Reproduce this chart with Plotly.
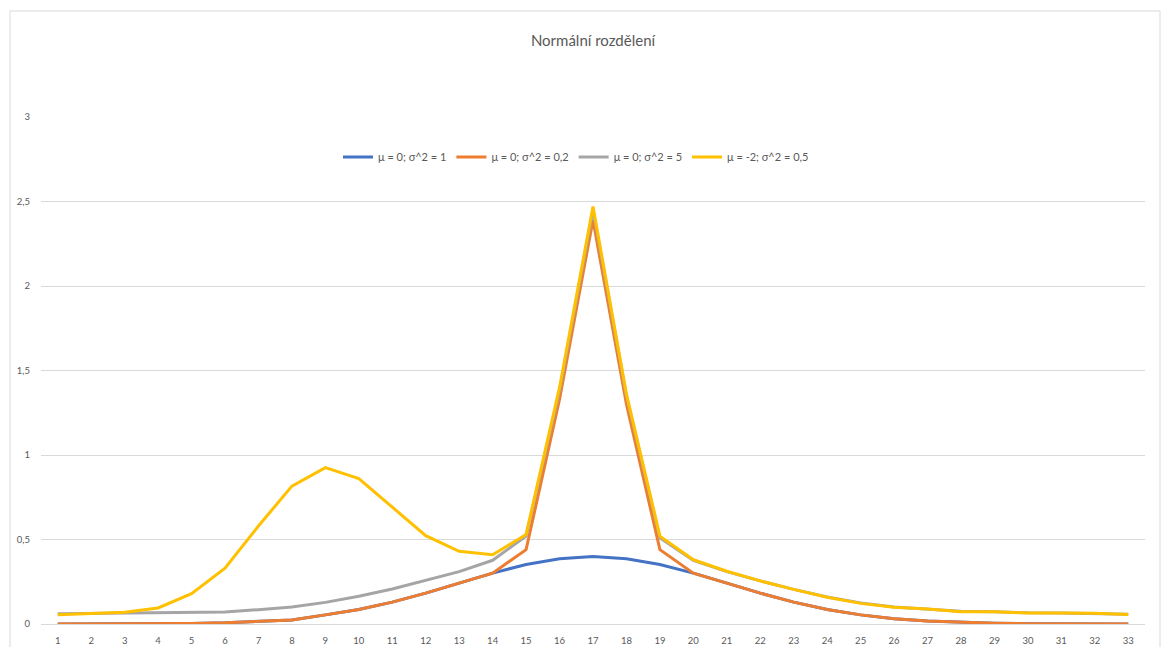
import plotly.graph_objects as go

categories = list(range(1, 34))

series_names = ["μ = 0; σ^2 = 1", "μ = 0; σ^2 = 0,2", "μ = 0; σ^2 = 5", "μ = -2; σ^2 = 0,5"]

blue = [0.0001, 0.0002, 0.0006, 0.0015, 0.0033, 0.0071, 0.0136, 0.0242, 0.0540, 0.0863,
        0.1295, 0.1826, 0.2420, 0.3011, 0.3521, 0.3867, 0.3989, 0.3867, 0.3521, 0.3011,
        0.2420, 0.1826, 0.1295, 0.0863, 0.0540, 0.0317, 0.0175, 0.0091, 0.0044, 0.0020,
        0.0009, 0.0004, 0.0001]
orange = [0.0001, 0.0002, 0.0006, 0.0015, 0.0033, 0.0071, 0.0136, 0.0242, 0.0540, 0.0863,
          0.1295, 0.1826, 0.2420, 0.3011, 0.44, 1.33, 2.39, 1.30, 0.44, 0.3011,
          0.2420, 0.1826, 0.1295, 0.0863, 0.0540, 0.0317, 0.0175, 0.0091, 0.0044, 0.0020,
          0.0009, 0.0004, 0.0001]
gray = [0.060, 0.062, 0.063, 0.065, 0.069, 0.071, 0.085, 0.100, 0.128, 0.164,
        0.207, 0.260, 0.310, 0.377, 0.52, 1.38, 2.45, 1.35, 0.51, 0.377,
        0.310, 0.255, 0.205, 0.160, 0.125, 0.100, 0.088, 0.075, 0.072, 0.066,
        0.065, 0.063, 0.058]
yellow = [0.055, 0.063, 0.070, 0.095, 0.180, 0.330, 0.580, 0.816, 0.925, 0.860,
          0.690, 0.523, 0.430, 0.410, 0.53, 1.40, 2.47, 1.36, 0.52, 0.380,
          0.312, 0.255, 0.205, 0.158, 0.122, 0.099, 0.089, 0.073, 0.072, 0.065,
          0.065, 0.064, 0.056]

colors = ["#4472C4", "#ED7D31", "#A5A5A5", "#FFC000"]
all_series = [blue, orange, gray, yellow]

fig = go.Figure()
for name, vals, col in zip(series_names, all_series, colors):
    fig.add_trace(go.Scatter(x=categories, y=vals, mode="lines", name=name,
                             line=dict(color=col, width=3)))

OFF = 8  # default page body margin
W, H = 1169 - OFF, 647 - OFF
ml, mr, mt, mb = 33, 24, 109, 23
pw = W - ml - mr
ph = H - mt - mb

def px(xp):
    return (xp - OFF - ml) / pw

def py(yp):
    return (H - mb - (yp - OFF)) / ph

fig.update_layout(
    width=W, height=H,
    margin=dict(l=ml, r=mr, t=mt, b=mb, autoexpand=False),
    paper_bgcolor="white", plot_bgcolor="white",
    separators=", ",
    font=dict(family="Lato, Open Sans, sans-serif", color="#595959", size=10),
    title=dict(text="Normální rozdělení", x=0.5, xref="paper", xanchor="center",
               y=1 - (41 - OFF) / H, yref="container", yanchor="middle",
               font=dict(size=15, color="#595959")),
    showlegend=True,
    legend=dict(orientation="h", x=px(576), xanchor="center",
                y=py(157), yanchor="middle", font=dict(size=11, color="#595959"),
                bgcolor="rgba(0,0,0,0)", itemwidth=30, tracegroupgap=0),
    xaxis=dict(type="category", tickmode="array", tickvals=categories,
               ticktext=[str(c) for c in categories], automargin=False,
               showgrid=False, showline=False, zeroline=False, ticks="",
               tickfont=dict(size=9.5, color="#595959"), range=[-0.5, 32.5],
               ticklabelstandoff=9),
    yaxis=dict(range=[0, 3], dtick=0.5, showgrid=True, gridcolor="#D9D9D9",
               gridwidth=1, zeroline=True, zerolinecolor="#D9D9D9", zerolinewidth=1,
               showline=False, ticks="", tickfont=dict(size=9.5, color="#595959"),
               ticklabelstandoff=10, automargin=False),
    shapes=[dict(type="rect", xref="paper", yref="paper",
                 x0=px(10), x1=px(1160), y0=py(700), y1=py(11),
                 line=dict(color="#D9D9D9", width=1), fillcolor="rgba(0,0,0,0)",
                 layer="below")],
)

fig.write_html("out.html")
